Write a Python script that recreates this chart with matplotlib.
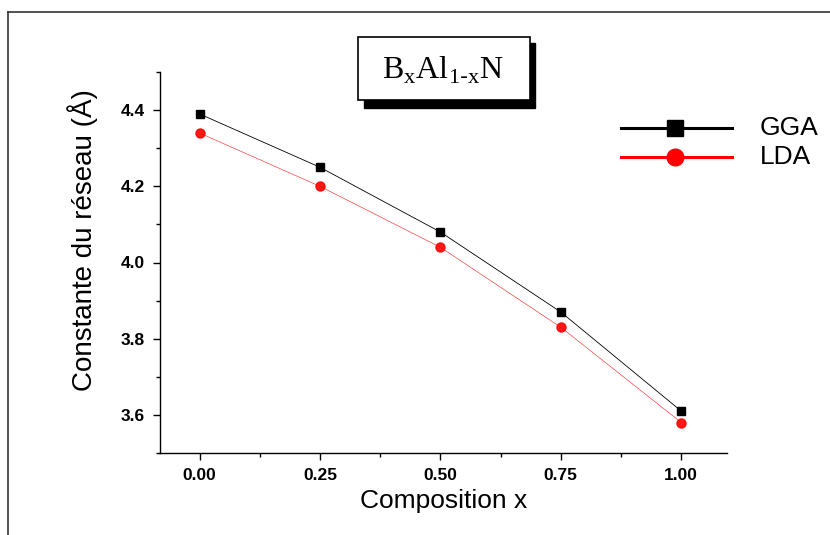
import matplotlib
matplotlib.use("Agg")
import matplotlib.pyplot as plt
from matplotlib.lines import Line2D
from matplotlib.patches import Rectangle
from matplotlib.ticker import MultipleLocator

# data
composition = [0.00, 0.25, 0.50, 0.75, 1.00]
gga = [4.39, 4.25, 4.08, 3.87, 3.61]
lda = [4.34, 4.20, 4.04, 3.83, 3.58]
xtick_labels = ["0.00", "0.25", "0.50", "0.75", "1.00"]
ytick_values = [3.6, 3.8, 4.0, 4.2, 4.4]

W, H = 830, 535
fig = plt.figure(figsize=(W / 100, H / 100), dpi=100)

# outer frame (only left and top edges visible)
fig.add_artist(Line2D([8 / W, 8 / W], [0, 1 - 12 / H], transform=fig.transFigure,
                      color="#333333", lw=1.2))
fig.add_artist(Line2D([8 / W, 1], [1 - 12 / H, 1 - 12 / H], transform=fig.transFigure,
                      color="#333333", lw=1.2))

ax = fig.add_axes([160 / W, 1 - 453 / H, (727 - 160) / W, (453 - 72) / H])
ax.plot(composition, gga, color="black", lw=0.6, marker="s", ms=6)
ax.plot(composition, lda, color="red", lw=0.4, alpha=0.9, marker="o", ms=6.5,
        mfc="red", mec="red")

ax.set_xlim(-0.082, 1.095)
ax.set_ylim(3.5, 4.5)
ax.set_xticks(composition)
ax.set_xticklabels(xtick_labels)
ax.set_yticks(ytick_values)
ax.set_yticklabels([f"{v:.1f}" for v in ytick_values])
ax.xaxis.set_minor_locator(MultipleLocator(0.125))
ax.yaxis.set_minor_locator(MultipleLocator(0.1))
ax.tick_params(which="major", direction="out", length=5, width=1, pad=6)
ax.tick_params(which="minor", direction="out", length=3, width=1)
for lab in ax.get_xticklabels() + ax.get_yticklabels():
    lab.set_fontweight("bold")
    lab.set_family("Liberation Sans")
    lab.set_fontsize(12.5)

ax.spines["top"].set_visible(False)
ax.spines["right"].set_visible(False)
ax.spines["left"].set_linewidth(1)
ax.spines["bottom"].set_linewidth(1)

ax.set_xlabel("Composition x", fontsize=19, family="Liberation Sans", labelpad=4)
ax.set_ylabel("Constante du réseau (Å)", fontsize=20, family="Liberation Sans")
ax.yaxis.set_label_coords(-0.11, 0.56)

# title box with drop shadow
fig.add_artist(Rectangle((364 / W, 1 - 108 / H), (535 - 364) / W, (108 - 43) / H,
                         transform=fig.transFigure, facecolor="black", edgecolor="black"))
fig.add_artist(Rectangle((358 / W, 1 - 100 / H), (530 - 358) / W, (100 - 37) / H,
                         transform=fig.transFigure, facecolor="white", edgecolor="black", lw=1.2))
fig.text(443 / W, 1 - 70 / H, r"B$_\mathregular{x}$Al$_\mathregular{1\text{-}x}$N",
         ha="center", va="center", fontsize=23, family="Liberation Serif")

# legend placed by hand to match the reference
legend_items = [("GGA", "black", "s", 11, 128), ("LDA", "red", "o", 12, 157)]
for name, col, mk, size, ypix in legend_items:
    yy = 1 - ypix / H
    fig.add_artist(Line2D([621 / W, 732 / W], [yy, yy], transform=fig.transFigure,
                          color=col, lw=2.2))
    fig.add_artist(Line2D([675 / W], [yy], transform=fig.transFigure, color=col,
                          marker=mk, ms=size, mfc=col, mec=col))
    fig.text(760 / W, yy, name, ha="left", va="center", fontsize=19,
             family="Liberation Sans")

fig.savefig("out.png", dpi=100)
